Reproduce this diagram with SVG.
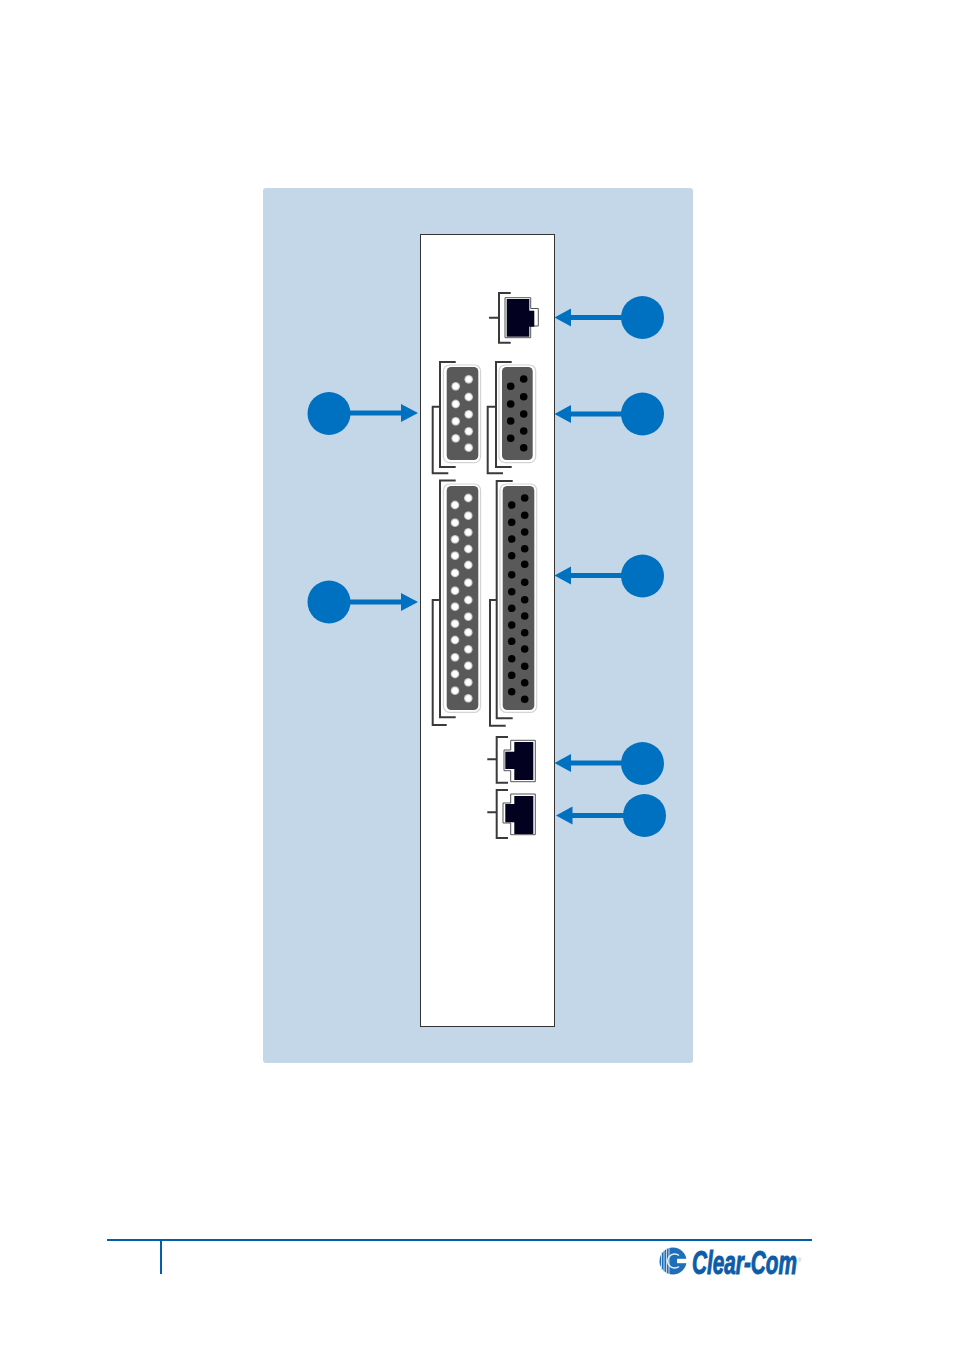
<svg xmlns="http://www.w3.org/2000/svg" width="954" height="1350" viewBox="0 0 954 1350">
<style>
.brk{fill:none;stroke:#3a3a3a;stroke-width:2}
.shell{fill:#fff;stroke:#d4d4d4;stroke-width:1.2}
.face{fill:#595959}
.rjo{fill:#fff;stroke:#555;stroke-width:1}
.rj{fill:#020220}
.num{fill:#0070c0}
.lead{stroke:#0070c0;stroke-width:5;fill:none}
.head{fill:#0070c0}
.rule{stroke:#0060a9;stroke-width:2;fill:none}
</style>
<defs>
<radialGradient id="wp" cx="50%" cy="50%" r="50%"><stop offset="0.6" stop-color="#fff"/><stop offset="1" stop-color="#a8a8a8"/></radialGradient>
<circle id="w" r="4.4" fill="url(#wp)"/>
<circle id="b" r="3.8" fill="#000"/>
</defs>
<rect width="954" height="1350" fill="#fff"/>
<rect id="panel" x="263" y="188" width="430" height="875" rx="3" fill="#c4d7e9"/>
<rect id="module" x="420.5" y="234.5" width="134" height="792" fill="#fff" stroke="#333" stroke-width="1"/>

<g id="rj45-top">
<path class="rjo" d="M505 297.7H530.7V308.5H538.3V326H530.7V337.7H505Z"/>
<rect class="rj" x="506.7" y="299" width="22.6" height="37.7"/>
<rect class="rj" x="528" y="310.7" width="6.3" height="16"/>
<path class="brk" d="M510.7 292.9H499V342.7H510.7M489 317.7H499"/>
</g>

<g id="db9-female">
<rect class="shell" x="443.4" y="365" width="37.2" height="97.6" rx="6"/>
<rect class="face" x="446.7" y="367" width="31.6" height="93" rx="4.5"/>
<use href="#w" x="468.7" y="379.3"/><use href="#w" x="468.7" y="397"/><use href="#w" x="468.7" y="414.3"/><use href="#w" x="468.7" y="431.3"/><use href="#w" x="468.7" y="447.7"/>
<use href="#w" x="455.7" y="386.3"/><use href="#w" x="455.7" y="404"/><use href="#w" x="455.7" y="421.3"/><use href="#w" x="455.7" y="438.3"/>
<path class="brk" d="M455.7 362H440V467H455.7M440 406.7H432.7V473.3H448.3"/>
</g>

<g id="db9-male">
<rect class="shell" x="499" y="365" width="36.7" height="97.6" rx="6"/>
<rect class="face" x="502" y="367" width="30.7" height="93" rx="4.5"/>
<use href="#b" x="523.7" y="379"/><use href="#b" x="523.7" y="396.7"/><use href="#b" x="523.7" y="414"/><use href="#b" x="523.7" y="431"/><use href="#b" x="523.7" y="447.7"/>
<use href="#b" x="510.7" y="386.3"/><use href="#b" x="510.7" y="404"/><use href="#b" x="510.7" y="421"/><use href="#b" x="510.7" y="438.3"/>
<path class="brk" d="M511.7 362H496V467H511.7M496 406.7H487.7V473.3H503"/>
</g>

<g id="db25-female">
<rect class="shell" x="443.4" y="484" width="37.2" height="228.3" rx="6"/>
<rect class="face" x="446.7" y="486" width="31.6" height="224" rx="4.5"/>
<use href="#w" x="468.3" y="498"/><use href="#w" x="468.3" y="515.7"/><use href="#w" x="468.3" y="532.3"/><use href="#w" x="468.3" y="549"/><use href="#w" x="468.3" y="565"/><use href="#w" x="468.3" y="582.7"/><use href="#w" x="468.3" y="600"/><use href="#w" x="468.3" y="616.7"/><use href="#w" x="468.3" y="632.3"/><use href="#w" x="468.3" y="649.3"/><use href="#w" x="468.3" y="665.7"/><use href="#w" x="468.3" y="682.3"/><use href="#w" x="468.3" y="698.3"/>
<use href="#w" x="455" y="505"/><use href="#w" x="455" y="522.7"/><use href="#w" x="455" y="539.3"/><use href="#w" x="455" y="555.7"/><use href="#w" x="455" y="573"/><use href="#w" x="455" y="590.7"/><use href="#w" x="455" y="606.7"/><use href="#w" x="455" y="623.7"/><use href="#w" x="455" y="640"/><use href="#w" x="455" y="657.3"/><use href="#w" x="455" y="674"/><use href="#w" x="455" y="690.7"/>
<path class="brk" d="M455.7 480.500H440V717.300H455.700M440 600H432.700V725H446.700"/>
</g>

<g id="db25-male">
<rect class="shell" x="500" y="484" width="36.7" height="228.3" rx="6"/>
<rect class="face" x="502.7" y="486" width="31.6" height="224" rx="4.5"/>
<use href="#b" x="524.7" y="498"/><use href="#b" x="524.7" y="515.3"/><use href="#b" x="524.7" y="532"/><use href="#b" x="524.7" y="548.7"/><use href="#b" x="524.7" y="564.3"/><use href="#b" x="524.7" y="582.3"/><use href="#b" x="524.7" y="599.7"/><use href="#b" x="524.7" y="616"/><use href="#b" x="524.7" y="632.7"/><use href="#b" x="524.7" y="649"/><use href="#b" x="524.7" y="666.3"/><use href="#b" x="524.7" y="682.7"/><use href="#b" x="524.7" y="699.3"/>
<use href="#b" x="511.7" y="505"/><use href="#b" x="511.7" y="522.3"/><use href="#b" x="511.7" y="539"/><use href="#b" x="511.7" y="555.7"/><use href="#b" x="511.7" y="574.7"/><use href="#b" x="511.7" y="591.7"/><use href="#b" x="511.7" y="608.3"/><use href="#b" x="511.7" y="625"/><use href="#b" x="511.7" y="641.3"/><use href="#b" x="511.7" y="658.7"/><use href="#b" x="511.7" y="675.3"/><use href="#b" x="511.7" y="691.7"/>
<path class="brk" d="M512.7 481H496.7V718.3H512.7M496.7 600H490V725.7H505.7"/>
</g>

<g id="rj45-mid">
<path class="rjo" d="M535.3 740.3H510.7V750H504V770.7H510.7V781.7H535.3Z"/>
<rect class="rj" x="514.3" y="742" width="19" height="38"/>
<rect class="rj" x="505.3" y="751.7" width="10" height="17.3"/>
<path class="brk" d="M508 736.9H496.7V782.7H508M487.3 759.3H496.7"/>
</g>

<g id="rj45-low">
<path class="rjo" d="M535.3 794H510.7V803H503V823H510.7V834.7H535.3Z"/>
<rect class="rj" x="514.3" y="796" width="19" height="38"/>
<rect class="rj" x="505.3" y="804" width="10" height="18.3"/>
<path class="brk" d="M508 790H496.7V838H508M487.3 812.3H496.7"/>
</g>

<g id="connectors">
<path class="lead" d="M622 317.5H568"/><path class="head" d="M554.5 317.5L571 308.5V326.500Z"/>
<path class="lead" d="M622 414H568"/><path class="head" d="M554.5 414L571 405V423Z"/>
<path class="lead" d="M622 575.5H568"/><path class="head" d="M554.5 575.5L571 566.500V584.500Z"/>
<path class="lead" d="M622 763H568"/><path class="head" d="M554.5 763L571 754V772Z"/>
<path class="lead" d="M624 815.5H570"/><path class="head" d="M556 815.5L572.5 806.500V824.500Z"/>
<path class="lead" d="M350 413H404"/><path class="head" d="M418 413L401 404V422Z"/>
<path class="lead" d="M350 602H404"/><path class="head" d="M418 602L401 593V611Z"/>
</g>

<g id="callout-1"><circle class="num" cx="642.5" cy="317.5" r="21.5"/></g>
<g id="callout-2"><circle class="num" cx="642.5" cy="414" r="21.5"/></g>
<g id="callout-3"><circle class="num" cx="642.5" cy="576" r="21.5"/></g>
<g id="callout-4"><circle class="num" cx="642.5" cy="763.5" r="21.5"/></g>
<g id="callout-5"><circle class="num" cx="644.5" cy="815.5" r="21.5"/></g>
<g id="callout-6"><circle class="num" cx="329" cy="413.5" r="21.5"/></g>
<g id="callout-7"><circle class="num" cx="329" cy="602" r="21.5"/></g>

<g id="footer">
<path class="rule" d="M107 1240H812"/>
<path class="rule" d="M161 1240V1274"/>
</g>

<g id="logo">
<circle cx="673" cy="1261" r="13.5" fill="#1f6fb8"/>
<path d="M661.500 1252V1270M664 1250V1272M666.500 1248.500V1273.500M669 1248V1274" stroke="#c4d9ec" stroke-width="1" fill="none"/>
<path d="M679 1255.500A7 7 0 1 0 679 1266.500" fill="none" stroke="#e6eff7" stroke-width="1.500"/>
<rect x="677" y="1258.800" width="10" height="4.400" fill="#fff"/>
<text x="692" y="1273.500" font-family="'Liberation Sans',Arial,sans-serif" font-size="33" font-weight="700" font-style="italic" fill="#0c5ca8" stroke="#0c5ca8" stroke-width="1" textLength="109" lengthAdjust="spacingAndGlyphs">Clear-Com<tspan dx="2" dy="-12" font-size="6" font-weight="400" font-style="normal" fill="#7f9fc0" stroke="none">®</tspan></text>
</g>
</svg>
